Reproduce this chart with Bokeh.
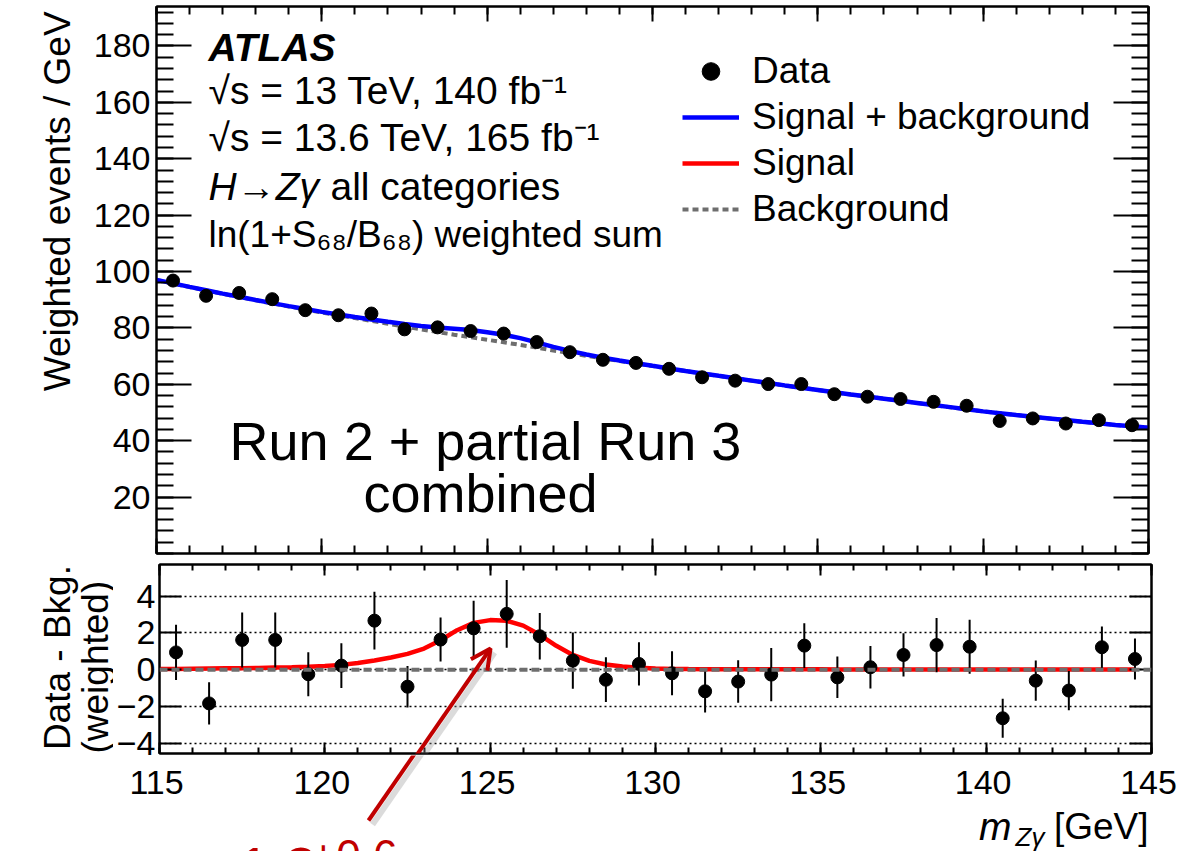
import math
from bokeh.plotting import figure
from bokeh.layouts import column, row
from bokeh.models import (Range1d, LinearAxis, FixedTicker, Label, Span, Arrow,
                          OpenHead, Grid, Legend, LegendItem, ColumnDataSource)
from bokeh.core.properties import value
from bokeh.embed import file_html
from bokeh.resources import INLINE

# ---------------- data ----------------
bin_centers = [115.5, 116.5, 117.5, 118.5, 119.5, 120.5, 121.5, 122.5, 123.5, 124.5,
               125.5, 126.5, 127.5, 128.5, 129.5, 130.5, 131.5, 132.5, 133.5, 134.5,
               135.5, 136.5, 137.5, 138.5, 139.5, 140.5, 141.5, 142.5, 143.5, 144.5]
data_weighted = [96.8, 91.4, 92.4, 90.2, 86.3, 84.5, 85.1, 79.5, 80.2, 78.9,
                 78.0, 75.0, 71.4, 68.7, 67.6, 65.5, 62.5, 61.3, 60.1, 60.1,
                 56.5, 55.6, 54.8, 53.8, 52.4, 47.0, 47.9, 46.1, 47.3, 45.5]
data_minus_bkg = [0.94, -1.84, 1.62, 1.62, -0.25, 0.22, 2.67, -0.93, 1.64, 2.25,
                  3.04, 1.82, 0.49, -0.55, 0.31, -0.20, -1.18, -0.65, -0.27, 1.31,
                  -0.42, 0.13, 0.80, 1.34, 1.25, -2.65, -0.60, -1.14, 1.22, 0.58]
data_err = [1.50, 1.15, 1.50, 1.50, 1.20, 1.22, 1.57, 1.13, 1.20, 1.50,
            1.85, 1.27, 1.53, 1.22, 1.18, 1.20, 1.15, 1.16, 1.45, 1.22,
            1.13, 1.16, 1.18, 1.48, 1.47, 1.06, 1.10, 1.07, 1.13, 1.12]

curve_x = [115.0, 115.5, 116.0, 116.5, 117.0, 117.5, 118.0, 118.5, 119.0, 119.5,
           120.0, 120.5, 121.0, 121.5, 122.0, 122.5, 123.0, 123.5, 124.0, 124.5,
           125.0, 125.5, 126.0, 126.5, 127.0, 127.5, 128.0, 128.5, 129.0, 129.5,
           130.0, 130.5, 131.0, 131.5, 132.0, 132.5, 133.0, 133.5, 134.0, 134.5,
           135.0, 135.5, 136.0, 136.5, 137.0, 137.5, 138.0, 138.5, 139.0, 139.5,
           140.0, 140.5, 141.0, 141.5, 142.0, 142.5, 143.0, 143.5, 144.0, 144.5,
           145.0]
background = [97.0, 95.75, 94.5, 93.3, 92.1, 90.95, 89.8, 88.7, 87.6, 86.55,
              85.5, 84.5, 83.5, 82.5, 81.5, 80.5, 79.5, 78.55, 77.6, 76.7,
              75.8, 74.9, 74.0, 73.0, 72.0, 71.05, 70.1, 69.2, 68.3, 67.4,
              66.5, 65.6, 64.7, 63.85, 63.0, 62.15, 61.3, 60.45, 59.6, 58.8,
              58.0, 57.2, 56.4, 55.65, 54.9, 54.15, 53.4, 52.65, 51.9, 51.15,
              50.4, 49.75, 49.1, 48.5, 47.9, 47.3, 46.7, 46.15, 45.6, 45.1,
              44.6]
signal = [0.04, 0.04, 0.05, 0.06, 0.07, 0.08, 0.09, 0.11, 0.13, 0.16,
          0.20, 0.26, 0.36, 0.50, 0.66, 0.86, 1.15, 1.60, 2.15, 2.55,
          2.70, 2.66, 2.40, 1.90, 1.30, 0.80, 0.48, 0.28, 0.17, 0.10,
          0.06, 0.04, 0.03, 0.025, 0.02, 0.02, 0.02, 0.02, 0.02, 0.02,
          0.02, 0.01, 0.01, 0.01, 0.01, 0.01, 0.01, 0.01, 0.01, 0.01,
          0.01, 0.01, 0.01, 0.01, 0.01, 0.01, 0.01, 0.01, 0.01, 0.01,
          0.01]
sig_plus_bkg = [b + s for b, s in zip(background, signal)]

x_major = [115, 120, 125, 130, 135, 140, 145]
x_tick_labels = ["115", "120", "125", "130", "135", "140", "145"]
x_minor = list(range(115, 146))
y1_major = [20, 40, 60, 80, 100, 120, 140, 160, 180]
y1_minor = list(range(0, 195, 4))
y2_major = [-4, -2, 0, 2, 4]

# ---------------- page geometry (page pixel -> data) ----------------
FONT = "Liberation Sans"
W, H = 1194, 851
X0P, X1P = 156.0, 1148.0
XMIN, XMAX = 115.0, 145.0
T_TOP, T_BOT = 6.0, 553.0
Y1MAX = 194.0
B_TOP, B_BOT = 564.0, 753.0
Y2MIN, Y2MAX = -4.57, 5.73
P1_H = 558
P2_H = 197
S_H = H - P1_H - P2_H
L1_W = 86
L2_W = 113


def tx(px):
    return XMIN + (px - X0P) * (XMAX - XMIN) / (X1P - X0P)


def ty(py):
    return (T_BOT - py) / (T_BOT - T_TOP) * Y1MAX


def by(py):
    return Y2MAX - (py - B_TOP) / (B_BOT - B_TOP) * (Y2MAX - Y2MIN)


def lab(p, x, y, text, size=37, style="normal", align="left",
        baseline="middle", color="black", angle=0.0):
    p.add_layout(Label(x=x, y=y, text=text, text_font=FONT,
                       text_font_size=f"{size}px", text_font_style=style,
                       text_align=align, text_baseline=baseline,
                       text_color=color, angle=angle))


def add_axis(p, side, ticker, tick_in, minor_in, show_labels, standoff=6, overrides=None):
    ax = LinearAxis(ticker=ticker)
    ax.major_tick_in = tick_in
    ax.major_tick_out = 0
    ax.minor_tick_in = minor_in
    ax.minor_tick_out = 0
    ax.major_tick_line_width = 2
    ax.minor_tick_line_width = 2
    ax.major_tick_line_color = "black"
    ax.minor_tick_line_color = "black"
    ax.axis_line_width = 2
    ax.axis_line_color = "black"
    ax.major_label_text_font = FONT
    if show_labels:
        ax.major_label_text_font_size = "34px"
        ax.major_label_text_color = "black"
        ax.major_label_standoff = standoff
    else:
        ax.major_label_text_font_size = "1px"
        ax.major_label_text_color = None
        ax.major_label_standoff = 0
    if overrides:
        ax.major_label_overrides = overrides
    p.add_layout(ax, side)
    return ax


def blank(width, height, xr, yr):
    f = figure(width=width, height=height, x_range=xr, y_range=yr,
               output_backend="svg", toolbar_location=None,
               x_axis_location=None, y_axis_location=None, min_border=0)
    f.grid.visible = False
    f.outline_line_color = None
    f.background_fill_color = "white"
    f.border_fill_color = "white"
    return f


# ---------------- top panel ----------------
p1 = figure(frame_width=int(X1P - X0P), frame_height=int(T_BOT - T_TOP),
            x_range=Range1d(XMIN, XMAX), y_range=Range1d(0, Y1MAX),
            output_backend="svg", toolbar_location=None,
            x_axis_location=None, y_axis_location=None,
            min_border_left=int(X0P - L1_W), min_border_right=int(W - X1P),
            min_border_top=int(T_TOP), min_border_bottom=int(P1_H - T_BOT))
p1.grid.visible = False
p1.outline_line_color = "black"
p1.outline_line_width = 2
p1.background_fill_color = "white"
p1.border_fill_color = "white"

add_axis(p1, "left", FixedTicker(ticks=y1_major, minor_ticks=y1_minor), 35, 17, True, 6)
add_axis(p1, "right", FixedTicker(ticks=y1_major, minor_ticks=y1_minor), 35, 17, False)
add_axis(p1, "below", FixedTicker(ticks=x_major, minor_ticks=x_minor), 15, 8, False)
add_axis(p1, "above", FixedTicker(ticks=x_major, minor_ticks=x_minor), 15, 8, False)

r_bkg = p1.line(curve_x, background, line_color="#6e6e6e", line_width=4,
                line_dash="6 4")
r_sb = p1.line(curve_x, sig_plus_bkg, line_color="#0000ff", line_width=4.5)
r_sig_key = p1.line(x=[float("nan")], y=[float("nan")], line_color="#ff0000",
                    line_width=4.5)
p1.segment(x0=bin_centers, y0=[d - e for d, e in zip(data_weighted, data_err)],
           x1=bin_centers, y1=[d + e for d, e in zip(data_weighted, data_err)],
           line_color="black", line_width=2)
r_data = p1.scatter(bin_centers, data_weighted, size=13, fill_color="black",
                    line_color="black")

legend = Legend(items=[LegendItem(label="Data", renderers=[r_data]),
                       LegendItem(label="Signal + background", renderers=[r_sb]),
                       LegendItem(label="Signal", renderers=[r_sig_key]),
                       LegendItem(label="Background", renderers=[r_bkg])],
                location=(526, 322), glyph_width=57, glyph_height=44,
                label_height=44, spacing=2, label_standoff=13, padding=0,
                margin=0, border_line_color=None, background_fill_alpha=0,
                label_text_font=FONT, label_text_font_size="37px",
                label_text_color="black")
p1.add_layout(legend, "center")

lab(p1, tx(208), ty(47), "ATLAS", size=39, style="bold italic")
lab(p1, tx(208), ty(90), "√s = 13 TeV, 140 fb⁻¹", size=39)
lab(p1, tx(208), ty(137), "√s = 13.6 TeV, 165 fb⁻¹", size=39)
lab(p1, tx(208), ty(186), "H→Zγ", size=39, style="italic")
lab(p1, tx(330), ty(186), "all categories", size=39)
lab(p1, tx(208), ty(234), "ln(1+S₆₈/B₆₈) weighted sum", size=37)
lab(p1, tx(485), ty(440), "Run 2 + partial Run 3", size=54, align="center")
lab(p1, tx(480), ty(492), "combined", size=54, align="center")

# y title of the top panel (own strip, page coordinates)
L1 = blank(L1_W, P1_H, Range1d(0, L1_W), Range1d(P1_H, 0))
lab(L1, 57, 5, "Weighted events / GeV", size=37, align="right",
    baseline="middle", angle=math.pi / 2)

# ---------------- bottom panel ----------------
p2 = figure(frame_width=int(X1P - X0P), frame_height=int(B_BOT - B_TOP),
            x_range=Range1d(XMIN, XMAX), y_range=Range1d(Y2MIN, Y2MAX),
            output_backend="svg", toolbar_location=None,
            x_axis_location=None, y_axis_location=None,
            min_border_left=int(X0P - L2_W), min_border_right=int(W - X1P),
            min_border_top=int(B_TOP - P1_H), min_border_bottom=int(P1_H + P2_H - B_BOT))
p2.grid.visible = False
p2.outline_line_color = "black"
p2.outline_line_width = 2
p2.background_fill_color = "white"
p2.border_fill_color = "white"

p2.add_layout(Grid(dimension=1, ticker=FixedTicker(ticks=y2_major),
                   grid_line_color="black", grid_line_width=1.5,
                   grid_line_dash="2 3"))

minus = {-4: "−4", -2: "−2"}
add_axis(p2, "left", FixedTicker(ticks=y2_major, minor_ticks=[]), 22, 0, True, 4, minus)
add_axis(p2, "right", FixedTicker(ticks=y2_major, minor_ticks=[]), 22, 0, False)
add_axis(p2, "below", FixedTicker(ticks=x_major, minor_ticks=x_minor), 11, 6, False)
add_axis(p2, "above", FixedTicker(ticks=x_major, minor_ticks=x_minor), 11, 6, False)

p2.add_layout(Span(location=0, dimension="width", line_color="#6e6e6e",
                   line_width=4, line_dash="8 4"))
p2.line(curve_x[:60], signal[:60], line_color="#ff0000", line_width=4.5)
p2.segment(x0=bin_centers, y0=[d - e for d, e in zip(data_minus_bkg, data_err)],
           x1=bin_centers, y1=[d + e for d, e in zip(data_minus_bkg, data_err)],
           line_color="black", line_width=2)
p2.scatter(bin_centers, data_minus_bkg, size=13, fill_color="black",
           line_color="black")

ARROW_TAIL = (368, 820)
ARROW_TIP = (487, 648)
SH = 4
p2.add_layout(Arrow(end=None, x_start=tx(ARROW_TAIL[0] + SH), y_start=by(ARROW_TAIL[1] + SH),
                    x_end=tx(ARROW_TIP[0] + SH), y_end=by(ARROW_TIP[1] + SH),
                    line_color="#999999", line_alpha=0.35, line_width=6))
p2.add_layout(Arrow(end=OpenHead(size=20, line_color="#c00000", line_width=4),
                    x_start=tx(ARROW_TAIL[0]), y_start=by(ARROW_TAIL[1]),
                    x_end=tx(ARROW_TIP[0]), y_end=by(ARROW_TIP[1]),
                    line_color="#c00000", line_width=4))

# y title of the ratio panel (own strip, page coordinates)
L2 = blank(L2_W, P2_H, Range1d(0, L2_W), Range1d(P1_H + P2_H, P1_H))
lab(L2, 57, 655, "Data - Bkg.", size=37, align="center", baseline="middle",
    angle=math.pi / 2)
lab(L2, 95, 665, "(weighted)", size=37, align="center", baseline="middle",
    angle=math.pi / 2)

# ---------------- lower strip: x tick labels, x title, arrow tail, result ----
S = blank(W, S_H, Range1d(tx(0), tx(W)), Range1d(H, P1_H + P2_H))
tick_src = ColumnDataSource(dict(x=x_major, text=x_tick_labels))
S.text(x="x", y=782, text="text", source=tick_src, text_font=value(FONT),
       text_font_size="34px", text_align="center", text_baseline="middle",
       text_color="black")

lab(S, tx(1148), 826, "[GeV]", size=37, align="right")
lab(S, tx(1044), 836, "Zγ", size=26, style="italic", align="right")
lab(S, tx(1011), 826, "m", size=39, style="italic", align="right")

S.add_layout(Arrow(end=None, x_start=tx(ARROW_TAIL[0] + SH), y_start=ARROW_TAIL[1] + SH,
                   x_end=tx(ARROW_TIP[0] + SH), y_end=ARROW_TIP[1] + SH,
                   line_color="#999999", line_alpha=0.35, line_width=6))
S.add_layout(Arrow(end=None, x_start=tx(ARROW_TAIL[0]), y_start=ARROW_TAIL[1],
                   x_end=tx(ARROW_TIP[0]), y_end=ARROW_TIP[1],
                   line_color="#c00000", line_width=4))

# red result text, cut by the lower page edge as in the reference
lab(S, tx(238), 866, "1.3", size=56, color="#c00000")
lab(S, tx(310), 855, "+0.6", size=44, color="#c00000")

layout = column(row(L1, p1), row(L2, p2), S)
open("out.html", "w").write(file_html(layout, INLINE))
